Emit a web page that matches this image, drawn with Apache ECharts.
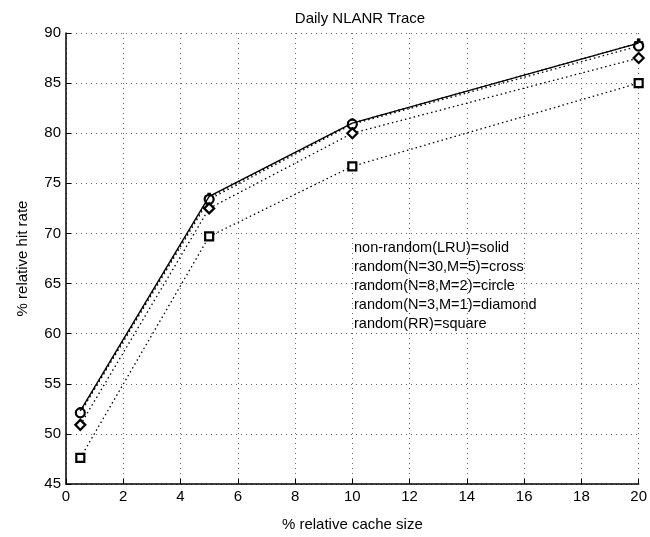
<!DOCTYPE html>
<html>
<head>
<meta charset="utf-8">
<script src="https://cdn.jsdelivr.net/npm/echarts@6/dist/echarts.min.js"></script>
<style>
  html, body { margin: 0; padding: 0; background: #fff; }
  #chart { width: 650px; height: 537px; }
</style>
</head>
<body>
<div id="chart"></div>
<script>
// cache size (%) where each policy was measured
var cacheSize = [0.5, 5, 10, 20];

// relative hit rate (%) per policy
var lruHit = [52.3, 73.7, 81.0, 89.0];
var n30m5Hit = [52.2, 73.6, 81.0, 89.0];
var n8m2Hit = [52.1, 73.4, 80.9, 88.7];
var n3m1Hit = [50.9, 72.5, 80.0, 87.5];
var rrHit = [47.6, 69.7, 76.7, 85.0];

var legendLines = [
  'non-random(LRU)=solid',
  'random(N=30,M=5)=cross',
  'random(N=8,M=2)=circle',
  'random(N=3,M=1)=diamond',
  'random(RR)=square'
];

var font = 'Liberation Sans, Arial, sans-serif';
var plus = 'path://M4,0h2v4h4v2h-4v4h-2v-4h-4v-2h4z';

function pairs(ys) {
  return cacheSize.map(function (x, i) { return [x, ys[i]]; });
}

// dotted policy line with a marker at every measured point
function dottedSeries(name, ys, symbol, size) {
  return {
    name: name,
    type: 'line',
    data: pairs(ys),
    symbol: symbol,
    symbolSize: size,
    showAllSymbol: true,
    lineStyle: { color: '#000', width: 1.3, type: [1.5, 3] },
    itemStyle: { color: '#fff', borderColor: '#000', borderWidth: 2.2 },
    z: 3
  };
}

var chart = echarts.init(document.getElementById('chart'));
chart.setOption({
  animation: false,
  backgroundColor: '#fff',
  title: {
    text: 'Daily NLANR Trace',
    left: 355,
    top: 6,
    textAlign: 'center',
    textStyle: { fontFamily: font, fontSize: 15, fontWeight: 'normal', color: '#000' }
  },
  grid: { left: 66, right: 9, top: 33, bottom: 52 },
  xAxis: {
    type: 'value',
    min: 0, max: 20, interval: 2,
    name: '% relative cache size',
    nameLocation: 'middle',
    nameGap: 33,
    nameTextStyle: { fontFamily: font, fontSize: 15, color: '#000' },
    axisLine: { lineStyle: { color: '#000', width: 1.5 } },
    axisTick: { inside: true, length: 5, lineStyle: { color: '#000' } },
    axisLabel: { fontFamily: font, fontSize: 15, color: '#000', margin: 5 },
    splitLine: { show: true, lineStyle: { color: '#666', width: 1, type: [1, 4] } }
  },
  yAxis: {
    type: 'value',
    min: 45, max: 90, interval: 5,
    name: '% relative hit rate',
    nameLocation: 'middle',
    nameGap: 36,
    nameTextStyle: { fontFamily: font, fontSize: 15, color: '#000' },
    axisLine: { show: true, lineStyle: { color: '#000', width: 1.5 } },
    axisTick: { show: true, inside: true, length: 5, lineStyle: { color: '#000' } },
    axisLabel: { fontFamily: font, fontSize: 15, color: '#000', margin: 5 },
    splitLine: { show: true, lineStyle: { color: '#666', width: 1, type: [1, 4] } }
  },
  graphic: [{
    type: 'text',
    left: 354,
    top: 238,
    style: {
      text: legendLines.join('\n'),
      font: '14.5px ' + font,
      lineHeight: 19,
      fill: '#000'
    }
  }],
  series: [
    {
      name: 'LRU',
      type: 'line',
      data: pairs(lruHit),
      symbol: 'none',
      lineStyle: { color: '#000', width: 1.3 },
      z: 4
    },
    dottedSeries('N=30,M=5', n30m5Hit, plus, 7),
    dottedSeries('N=8,M=2', n8m2Hit, 'circle', 9),
    dottedSeries('N=3,M=1', n3m1Hit, 'diamond', 10),
    dottedSeries('RR', rrHit, 'rect', 8)
  ]
});
</script>
</body>
</html>
